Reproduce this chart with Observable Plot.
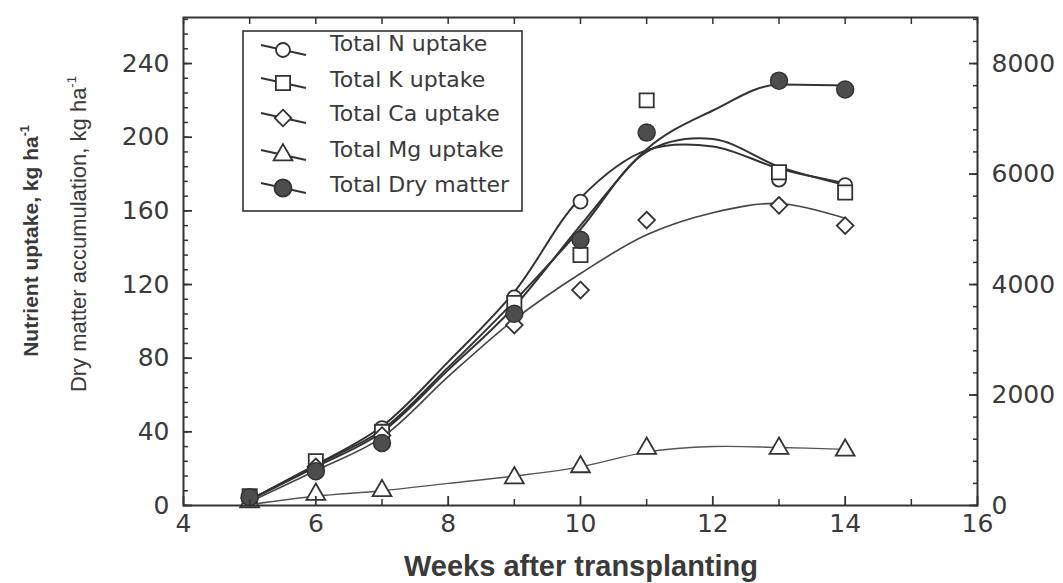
<!DOCTYPE html>
<html>
<head>
<meta charset="utf-8">
<script src="https://cdn.jsdelivr.net/npm/d3@7"></script>
<script src="https://cdn.jsdelivr.net/npm/@observablehq/plot@0.6"></script>
<style>
  html, body { margin: 0; padding: 0; background: #fff; }
</style>
</head>
<body>
<div id="chart"></div>
<script>
// ---------- data ----------
// measured points (nutrients in kg/ha on the left axis, dry matter in kg/ha on the right axis)
const weeksN  = [5, 6, 7, 9, 10, 13, 14];
const valuesN = [5, 23, 42, 113, 165, 177, 174];
const weeksK  = [5, 6, 7, 9, 10, 11, 13, 14];
const valuesK = [5, 24, 40, 110, 136, 220, 181, 170];
const weeksCa  = [5, 6, 7, 9, 10, 11, 13, 14];
const valuesCa = [4, 21, 38, 98, 117, 155, 163, 152];
const weeksMg  = [5, 6, 7, 9, 10, 11, 13, 14];
const valuesMg = [2, 6, 8, 15, 21, 31, 31, 30];
const weeksDM  = [5, 6, 7, 9, 10, 11, 13, 14];
const valuesDM = [150, 620, 1130, 3470, 4810, 6750, 7690, 7530];

// fitted curves at each week
const fitWeeks = [5, 6, 7, 8, 9, 10, 11, 12, 13, 14];
const fitN  = [3, 22, 43, 78, 116, 167, 193, 195, 183, 175];
const fitK  = [3, 22, 41, 75, 111, 150, 192, 199, 184, 174];
const fitCa = [2, 19, 37, 70, 101, 126, 147, 159, 164, 156];
const fitMg = [0.5, 5, 8, 12, 16, 21, 29, 32, 31.5, 30.5];
const fitDM = [100, 700, 1330, 2450, 3600, 5070, 6450, 7150, 7620, 7600];

// axes
const xTicks = [4, 6, 8, 10, 12, 14, 16];
const leftTicks = [0, 40, 80, 120, 160, 200, 240];
const rightTicks = [0, 2000, 4000, 6000, 8000];
const RATIO = 240 / 8000; // right-axis units -> left-axis units

const legendLabels = ["Total N uptake", "Total K uptake", "Total Ca uptake", "Total Mg uptake", "Total Dry matter"];

// ---------- build tables ----------
const pts = (ws, vs, k = 1) => ws.map((w, i) => ({ w, v: vs[i] * k }));
const ptN = pts(weeksN, valuesN), ptK = pts(weeksK, valuesK), ptCa = pts(weeksCa, valuesCa),
      ptMg = pts(weeksMg, valuesMg), ptDM = pts(weeksDM, valuesDM, RATIO);
const lnN = pts(fitWeeks, fitN), lnK = pts(fitWeeks, fitK), lnCa = pts(fitWeeks, fitCa),
      lnMg = pts(fitWeeks, fitMg), lnDM = pts(fitWeeks, fitDM, RATIO);

const INK = "#333";
const blank = () => "";

const chart = Plot.plot({
  width: 1063,
  height: 583,
  marginLeft: 183,
  marginRight: 86,
  marginTop: 17,
  marginBottom: 78,
  style: { fontFamily: "'DejaVu Sans', sans-serif", fontSize: "25px", color: "#3a3a3a", background: "#fff", overflow: "visible" },
  x: { domain: [4, 16], label: null },
  y: { domain: [0, 265], label: null },
  marks: [
    // fitted curves
    Plot.line(lnMg, { x: "w", y: "v", curve: "catmull-rom", stroke: "#555", strokeWidth: 1.4 }),
    Plot.line(lnCa, { x: "w", y: "v", curve: "catmull-rom", stroke: "#444", strokeWidth: 1.6 }),
    Plot.line(lnN,  { x: "w", y: "v", curve: "catmull-rom", stroke: INK, strokeWidth: 2 }),
    Plot.line(lnK,  { x: "w", y: "v", curve: "catmull-rom", stroke: INK, strokeWidth: 2 }),
    Plot.line(lnDM, { x: "w", y: "v", curve: "monotone-x", stroke: INK, strokeWidth: 2 }),
    // measured points
    Plot.dot(ptN,  { x: "w", y: "v", symbol: "circle",    r: 7,   fill: "#fff", stroke: INK, strokeWidth: 1.8 }),
    Plot.dot(ptK,  { x: "w", y: "v", symbol: "square",    r: 8,   fill: "#fff", stroke: INK, strokeWidth: 1.8 }),
    Plot.dot(ptCa, { x: "w", y: "v", symbol: "diamond2",  r: 7.5, fill: "#fff", stroke: INK, strokeWidth: 1.8 }),
    Plot.dot(ptMg, { x: "w", y: "v", symbol: "triangle2", r: 9,   fill: "#fff", stroke: INK, strokeWidth: 1.8 }),
    Plot.dot(ptDM, { x: "w", y: "v", symbol: "circle",    r: 8.5, fill: "#4d4d4d", stroke: INK, strokeWidth: 1.5 }),
    // axes (ticks pointing inward)
    Plot.axisX(d3.range(4, 17, 1), { anchor: "top", tickSize: -6, tickFormat: blank, label: null, stroke: INK, strokeWidth: 1.5 }),
    Plot.axisX(d3.range(5, 16, 2), { anchor: "bottom", tickSize: -6, tickFormat: blank, label: null, stroke: INK, strokeWidth: 1.5 }),
    Plot.axisX(xTicks, { anchor: "bottom", tickSize: -9, tickPadding: 18, label: null, stroke: INK, strokeWidth: 1.8 }),
    Plot.axisY(d3.range(0, 265, 8), { anchor: "left", tickSize: -5, tickFormat: blank, label: null, stroke: INK, strokeWidth: 1.5 }),
    Plot.axisY(leftTicks, { anchor: "left", tickSize: -9, tickPadding: 23, label: null, stroke: INK, strokeWidth: 1.8 }),
    Plot.axisY(d3.range(0, 8801, 400).map(v => v * RATIO), { anchor: "right", tickSize: -5, tickFormat: blank, label: null, stroke: INK, strokeWidth: 1.5 }),
    Plot.axisY(rightTicks.map(v => v * RATIO), { anchor: "right", tickSize: -9, tickPadding: 23, tickFormat: d => String(Math.round(d / RATIO)), label: null, stroke: INK, strokeWidth: 1.8 }),
    Plot.frame({ stroke: INK, strokeWidth: 2 })
  ]
});

document.getElementById("chart").appendChild(chart);

// ---------- legend & axis titles ----------
const svg = d3.select(chart);
const lg = svg.append("g");
lg.append("rect")
  .attr("x", 243).attr("y", 31).attr("width", 279).attr("height", 180)
  .attr("fill", "#fff").attr("stroke", INK).attr("stroke-width", 1.6);

const legendSymbols = [
  { type: d3.symbolCircle, r: 7, fill: "#fff" },
  { type: d3.symbolSquare, r: 8, fill: "#fff" },
  { type: d3.symbolDiamond2, r: 7.5, fill: "#fff" },
  { type: d3.symbolTriangle2, r: 9, fill: "#fff" },
  { type: d3.symbolCircle, r: 8.5, fill: "#4d4d4d" }
];
const symY = [50, 83, 118, 155, 188];
const txtY = [51, 87, 121, 157, 192];
legendLabels.forEach((lab, i) => {
  const cx = 283, cy = symY[i];
  lg.append("line")
    .attr("x1", cx - 22).attr("y1", cy - 5).attr("x2", cx + 23).attr("y2", cy + 5)
    .attr("stroke", INK).attr("stroke-width", 2);
  const s = legendSymbols[i];
  lg.append("path")
    .attr("transform", `translate(${cx},${cy})`)
    .attr("d", d3.symbol(s.type, Math.PI * s.r * s.r)())
    .attr("fill", s.fill).attr("stroke", INK).attr("stroke-width", 1.8);
  lg.append("text")
    .attr("x", 330).attr("y", txtY[i])
    .attr("text-anchor", "start")
    .attr("font-family", "'DejaVu Sans', sans-serif").attr("font-size", 22)
    .attr("fill", "#3a3a3a")
    .text(lab);
});

// x title
svg.append("text")
  .attr("x", 581).attr("y", 576)
  .attr("text-anchor", "middle")
  .attr("font-family", "'Liberation Sans', Arial, sans-serif").attr("font-weight", "bold").attr("font-size", 29)
  .attr("fill", "#3a3a3a")
  .text("Weeks after transplanting");

// y titles (rotated)
function yTitle(x, y, main, bold, size) {
  const t = svg.append("text")
    .attr("transform", `translate(${x},${y}) rotate(-90)`)
    .attr("text-anchor", "middle")
    .attr("font-family", "'Liberation Sans', Arial, sans-serif")
    .attr("font-weight", bold ? "bold" : "normal")
    .attr("font-size", size)
    .attr("fill", "#3a3a3a");
  t.append("tspan").text(main);
  t.append("tspan").attr("font-size", size * 0.6).attr("dy", -size * 0.45).text("-1");
}
yTitle(38, 241, "Nutrient uptake, kg ha", true, 21);
yTitle(86, 234, "Dry matter accumulation, kg ha", false, 22);
</script>
</body>
</html>
